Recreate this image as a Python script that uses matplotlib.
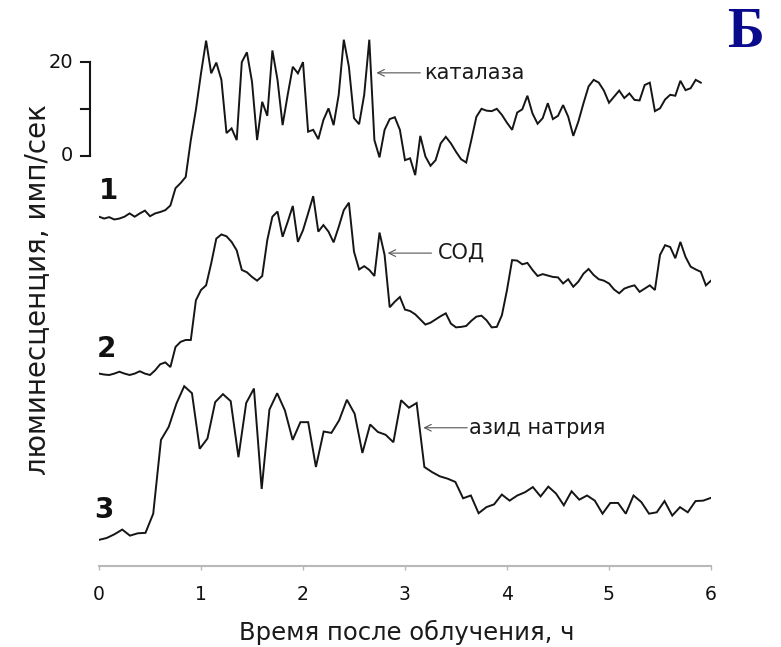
import numpy as np
import matplotlib
matplotlib.use('Agg')
import matplotlib.pyplot as plt

# ---------------- data (luminescence, imp/s; each trace relative to its own zero) ----------------
trace1_step_h = 0.05
trace1_values = [
    -13.1, -13.5, -13.2, -13.7, -13.5, -13.1, -12.4, -13.1, -12.4, -11.8,
    -13.0, -12.4, -12.1, -11.7, -10.7, -7.0, -5.9, -4.6, 3.3, 9.8,
    17.6, 24.6, 17.6, 19.9, 16.2, 4.8, 5.8, 3.3, 20.0, 22.1,
    15.8, 3.3, 11.5, 8.5, 22.5, 16.2, 6.5, 13.0, 19.0, 17.6,
    20.0, 5.1, 5.5, 3.5, 7.6, 10.1, 6.5, 13.0, 24.8, 19.0,
    8.0, 6.7, 13.0, 24.8, 3.3, -0.4, 5.5, 7.8, 8.2, 5.5,
    -1.0, -0.6, -4.2, 4.2, -0.2, -2.2, -1.0, 2.6, 4.0, 2.6,
    0.8, -0.8, -1.5, 3.3, 8.3, 10.0, 9.6, 9.5, 10.0, 8.7,
    7.0, 5.5, 9.2, 9.9, 12.8, 9.0, 6.8, 8.0, 11.2, 7.8,
    8.5, 10.8, 8.3, 4.2, 7.3, 11.2, 14.8, 16.2, 15.6, 13.9,
    11.3, 12.6, 13.9, 12.3, 13.3, 11.9, 11.8, 15.1, 15.6, 9.5,
    10.1, 12.0, 13.0, 12.8, 16.0, 14.0, 14.4, 16.2, 15.6,
]

trace2_step_h = 0.05
trace2_values = [
    -13.2, -13.4, -13.5, -13.2, -12.8, -13.2, -13.5, -13.2, -12.7, -13.2,
    -13.5, -12.5, -11.2, -10.8, -11.8, -7.5, -6.4, -6.0, -6.0, 2.5,
    4.7, 5.7, 10.4, 15.7, 16.6, 16.2, 15.0, 13.2, 9.0, 8.5,
    7.5, 6.7, 7.7, 15.4, 20.4, 21.5, 16.1, 19.3, 22.7, 15.0,
    17.5, 21.1, 24.8, 17.2, 18.6, 17.2, 14.9, 18.2, 21.8, 23.4,
    12.9, 9.1, 9.8, 9.0, 7.7, 17.0, 12.2, 1.0, 2.2, 3.2,
    0.5, 0.2, -0.5, -1.6, -2.7, -2.3, -1.6, -0.9, -0.3, -2.5,
    -3.3, -3.2, -3.0, -1.9, -1.0, -0.8, -1.8, -3.3, -3.2, -0.7,
    4.7, 11.1, 11.0, 10.2, 10.5, 9.0, 7.7, 8.1, 7.8, 7.5,
    7.4, 6.1, 7.0, 5.4, 6.5, 8.2, 9.2, 7.9, 7.0, 6.7,
    6.1, 4.8, 4.0, 5.0, 5.4, 5.7, 4.3, 5.0, 5.7, 4.7,
    12.2, 14.3, 13.9, 11.5, 15.0, 11.8, 9.7, 9.1, 8.6, 5.7, 6.7,
]

trace3_values = [
    -13.2, -12.8, -12.0, -11.0, -12.3, -11.8, -11.7, -7.6, 8.2, 11.0,
    16.0, 19.7, 18.2, 6.3, 8.5, 16.3, 18.0, 16.5, 4.5, 16.1,
    19.2, -2.3, 14.7, 18.2, 14.5, 8.2, 12.0, 12.0, 2.4, 10.0,
    9.7, 12.4, 16.8, 13.8, 5.4, 11.5, 9.9, 9.3, 7.7, 16.7,
    15.1, 16.1, 2.4, 1.3, 0.4, -0.1, -0.8, -4.3, -3.7, -7.5,
    -6.2, -5.6, -3.5, -4.8, -3.7, -3.0, -1.9, -3.9, -1.8, -3.3,
    -5.8, -2.8, -4.6, -3.7, -4.8, -7.6, -5.3, -5.3, -7.6, -3.7,
    -5.1, -7.6, -7.3, -4.9, -8.0, -6.2, -7.3, -4.9, -4.8, -4.2,
]
trace3_end_h = 6.0

trace_numbers = ['1', '2', '3']
trace_labels = ['каталаза', 'СОД', 'азид натрия']
x_ticks = [0, 1, 2, 3, 4, 5, 6]
scale_ticks = [0, 10, 20]
scale_labels = {0: '0', 20: '20'}
x_label = 'Время после облучения, ч'
y_label = 'люминесценция, имп/сек'
panel_letter = 'Б'

# ---------------- layout ----------------
W, H = 781, 647
PX_PER_UNIT = 4.67
offsets = [87.9, 54.4, 18.8]          # vertical shift of each trace

fig = plt.figure(figsize=(W / 100, H / 100), dpi=100)
ax = fig.add_axes([99 / W, 81 / H, 612 / W, 546 / H])
ax.set_xlim(0, 6)
ax.set_ylim(0, 546 / PX_PER_UNIT)

t1 = np.arange(len(trace1_values)) * trace1_step_h
t2 = np.arange(len(trace2_values)) * trace2_step_h
t3 = np.linspace(0, trace3_end_h, len(trace3_values))

line_kw = dict(color='#151515', lw=1.4, solid_joinstyle='miter')
for t, v, off in zip([t1, t2, t3], [trace1_values, trace2_values, trace3_values], offsets):
    ax.plot(t, np.asarray(v) + off, **line_kw)

# axes styling
for s in ['left', 'right', 'top']:
    ax.spines[s].set_visible(False)
ax.spines['bottom'].set_color('#b8b8b8')
ax.spines['bottom'].set_linewidth(1.5)
ax.set_yticks([])
ax.set_xticks(x_ticks)
ax.tick_params(axis='x', length=3, width=1, color='#b8b8b8', pad=11,
               labelsize=13.5, labelcolor='#111111')

# scale bar for trace 1
bar_x = -0.093
tick_x0 = -0.18
ax.plot([bar_x, bar_x], [offsets[0] + scale_ticks[0], offsets[0] + scale_ticks[-1]],
        color='#151515', lw=1.5, clip_on=False)
for st in scale_ticks:
    ax.plot([tick_x0, bar_x], [offsets[0] + st] * 2, color='#151515', lw=1.5, clip_on=False)
    if st in scale_labels:
        ax.text(-0.255, offsets[0] + st, scale_labels[st], ha='right', va='center',
                fontsize=14, color='#111111', clip_on=False)

# trace numbers
num_pos = [(0.09, 80.3), (0.07, 46.5), (0.05, 12.0)]
for n, (x, y) in zip(trace_numbers, num_pos):
    ax.text(x, y, n, fontsize=20, fontweight='bold', ha='center', va='center', color='#111111')

# annotations with arrows
ann = [((2.72, 105.6), 3.15, 3.19), ((2.83, 67.0), 3.26, 3.32), ((3.18, 29.6), 3.61, 3.63)]
for label, ((tx, ty), tail_x, text_x) in zip(trace_labels, ann):
    ax.annotate('', xy=(tx, ty), xytext=(tail_x, ty),
                arrowprops=dict(arrowstyle='->', color='#555555', lw=0.8,
                                shrinkA=0, shrinkB=0, mutation_scale=12))
    ax.text(text_x, ty, label, fontsize=15, ha='left', va='center', color='#1a1a1a')

fig.text(37 / W, 1 - 290 / H, y_label, rotation=90, fontsize=20, ha='center', va='center',
         color='#1a1a1a')
fig.text(407 / W, 1 - 632 / H, x_label, fontsize=17.5, ha='center', va='center', color='#1a1a1a')
fig.text(745 / W, 1 - 33 / H, panel_letter, family='Liberation Serif', fontweight='bold',
         fontsize=40, color='#0a0a8c', ha='center', va='center')

fig.savefig('out.png', dpi=100)
